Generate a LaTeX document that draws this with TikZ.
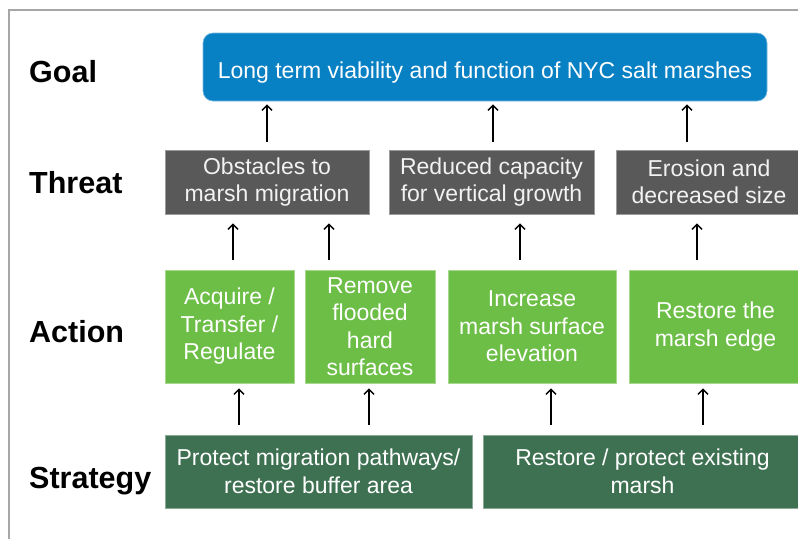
\documentclass[tikz,border=0pt]{standalone}
\usepackage{fontspec}
\setmainfont{Liberation Sans}
\usetikzlibrary{arrows.meta}

\definecolor{goalblue}{RGB}{8,128,196}
\definecolor{threatgray}{RGB}{89,89,89}
\definecolor{actiongreen}{RGB}{108,190,70}
\definecolor{stratgreen}{RGB}{62,113,82}
\definecolor{framegray}{RGB}{166,166,166}

\tikzset{
    box/.style={inner sep=0pt, align=center, text=white,
        font=\fontsize{23}{27.5}\selectfont, line width=0.6pt,
        execute at begin node={\rule{0pt}{27.5pt}}},
    goalbox/.style={box, fill=goalblue, draw=goalblue!55!white, rounded corners=10pt},
    threatbox/.style={box, fill=threatgray, draw=threatgray!60!white, text=white!95!black},
    actionbox/.style={box, fill=actiongreen, draw=actiongreen!60!white},
    stratbox/.style={box, fill=stratgreen, draw=stratgreen!60!white},
    rowlabel/.style={anchor=base west, inner sep=0pt, font=\fontsize{30.5}{33}\selectfont\bfseries},
    up/.style={line width=1.5pt, -{Straight Barb[length=5pt,width=10pt]}}
}

\begin{document}
\begin{tikzpicture}[x=1pt, y=-1pt]
        \useasboundingbox (0,0) rectangle (798,539);
        \draw[framegray, line width=1.5pt] (798,10) -- (9,10) -- (9,539);

        \node[rowlabel] (lgoal) at (29,82) {Goal};
        \node[rowlabel] (lthreat) at (29,193) {Threat};
        \node[rowlabel] (laction) at (29,342) {Action};
        \node[rowlabel] (lstrat) at (29,488) {Strategy};

        \node[goalbox, minimum width=564pt, minimum height=68pt] (goal) at (485,67)
            {Long term viability and function of NYC salt marshes};

        \node[threatbox, minimum width=204pt, minimum height=64pt] (t1) at (267,182) {Obstacles to\\marsh migration};
        \node[threatbox, minimum width=205pt, minimum height=64pt] (t2) at (491.5,182) {Reduced capacity\\for vertical growth};
        \node[threatbox, minimum width=186pt, minimum height=64pt] (t3) at (709,182) {Erosion and\\decreased size};

        \node[actionbox, minimum width=129pt, minimum height=113pt] (a1) at (229.5,326.5) {Acquire /\\Transfer /\\Regulate};
        \node[actionbox, minimum width=130pt, minimum height=113pt] (a2) at (370,326.5) {Remove\\flooded\\hard\\surfaces};
        \node[actionbox, minimum width=168pt, minimum height=113pt] (a3) at (532,326.5) {Increase\\marsh surface\\elevation};
        \node[actionbox, minimum width=173pt, minimum height=113pt] (a4) at (715.5,326.5) {Restore the\\marsh edge};

        \node[stratbox, minimum width=307pt, minimum height=73pt] (s1) at (318.5,471.5) {Protect migration pathways/\\restore buffer area};
        \node[stratbox, minimum width=319pt, minimum height=73pt] (s2) at (642.5,471.5) {Restore / protect existing\\marsh};

        \draw[up, shorten <=8pt, shorten >=3pt] (t1.north) -- (t1.north |- goal.south);
        \draw[up, shorten <=8pt, shorten >=3pt] ([xshift=1.5pt]t2.north) -- ([xshift=1.5pt]t2.north |- goal.south);
        \draw[up, shorten <=8pt, shorten >=3pt] ([xshift=-22pt]t3.north) -- ([xshift=-22pt]t3.north |- goal.south);

        \draw[up, shorten <=10pt, shorten >=9pt] ([xshift=3.5pt]a1.north) -- ([xshift=3.5pt]a1.north |- t1.south);
        \draw[up, shorten <=10pt, shorten >=9pt] ([xshift=-41pt]a2.north) -- ([xshift=-41pt]a2.north |- t1.south);
        \draw[up, shorten <=10pt, shorten >=9pt] ([xshift=-12pt]a3.north) -- ([xshift=-12pt]a3.north |- t2.south);
        \draw[up, shorten <=10pt, shorten >=9pt] ([xshift=-18.5pt]a4.north) -- ([xshift=-18.5pt]a4.north |- t3.south);

        \draw[up, shorten <=10pt, shorten >=5pt] ([xshift=9.5pt]a1.south |- s1.north) -- ([xshift=9.5pt]a1.south);
        \draw[up, shorten <=10pt, shorten >=5pt] ([xshift=-1pt]a2.south |- s1.north) -- ([xshift=-1pt]a2.south);
        \draw[up, shorten <=10pt, shorten >=5pt] ([xshift=19pt]a3.south |- s2.north) -- ([xshift=19pt]a3.south);
        \draw[up, shorten <=10pt, shorten >=5pt] ([xshift=-12.5pt]a4.south |- s2.north) -- ([xshift=-12.5pt]a4.south);
    \end{tikzpicture}
\end{document}
